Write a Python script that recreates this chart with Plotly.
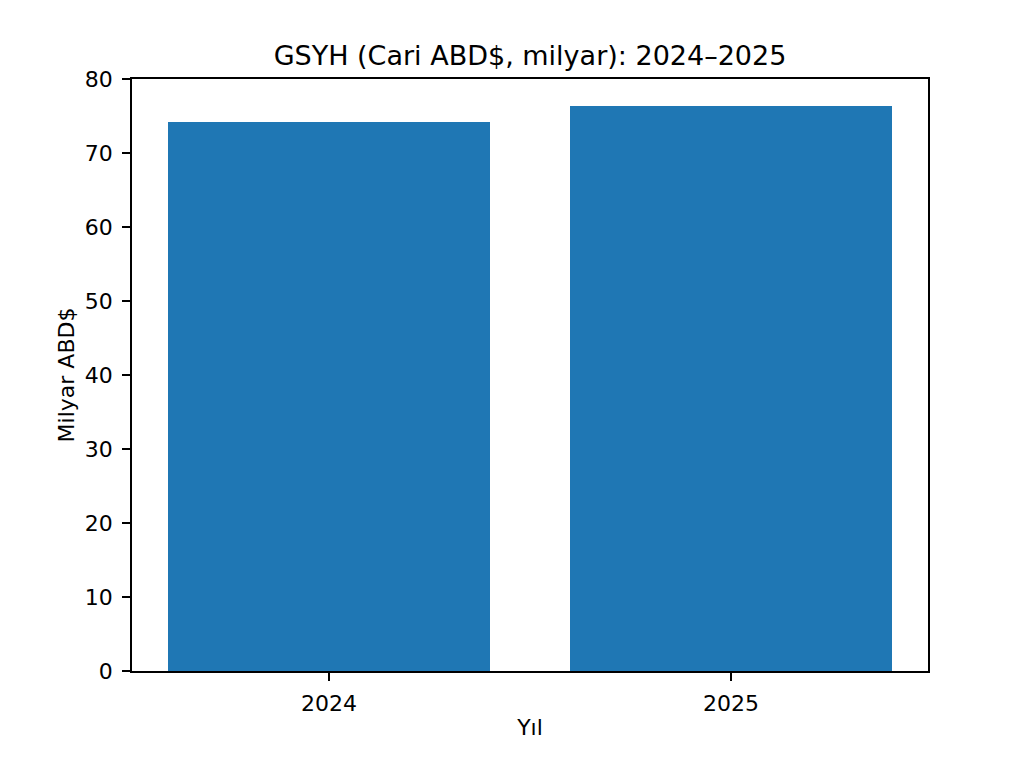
import plotly.graph_objects as go

years = ["2024", "2025"]
gdp_billion = [74.2, 76.35]
y_ticks = [0, 10, 20, 30, 40, 50, 60, 70, 80]

FONT = "DejaVu Sans"
OFF = 8  # default body margin of the html page

fig = go.Figure(go.Bar(x=[0, 1], y=gdp_billion, width=0.8,
                       marker=dict(color="#1f77b4", line=dict(width=0))))

axis_common = dict(showline=True, linecolor="black", linewidth=1.6, mirror=True, ticks="outside",
                   ticklen=8, tickwidth=1.6, tickcolor="black", showgrid=False, zeroline=False,
                   tickfont=dict(family=FONT, size=22, color="black"))

W, H = 1024 - OFF, 778 - OFF
fig.update_layout(
    width=W, height=H,
    paper_bgcolor="white", plot_bgcolor="white",
    margin=dict(l=132 - OFF, r=96, t=79 - OFF, b=107, pad=0),
    title=dict(text="GSYH (Cari ABD$, milyar): 2024–2025", x=(530 - OFF) / W, xanchor="center",
               y=1 - (56 - OFF) / H, yanchor="middle",
               font=dict(family=FONT, size=27, color="black")),
    showlegend=False,
    bargap=0,
)
fig.update_xaxes(range=[-0.49, 1.49], tickvals=[0, 1], ticktext=years,
                 title=dict(text="Yıl", font=dict(family=FONT, size=22, color="black"), standoff=4),
                 ticklabelstandoff=4,
                 **axis_common)
fig.update_yaxes(range=[0, 80], tickvals=y_ticks,
                 title=dict(text="Milyar ABD$", font=dict(family=FONT, size=22, color="black"), standoff=4),
                 ticklabelstandoff=5,
                 **axis_common)

fig.write_html("out.html")
